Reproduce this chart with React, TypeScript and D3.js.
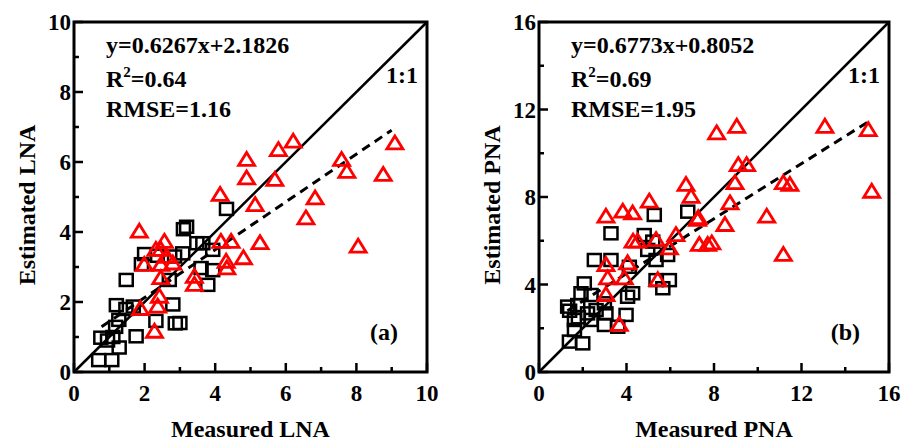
import React from 'react';
import * as d3 from 'd3';

// measured vs estimated values
const lnaBlack: [number, number][] = [
  [0.7, 0.34], [1.07, 0.34], [0.76, 0.98], [0.95, 0.9], [1.1, 1.0], [1.28, 0.7], [1.76, 1.02],
  [1.18, 1.29], [1.27, 1.49], [1.2, 1.91], [1.47, 1.8], [1.68, 1.87], [1.48, 2.63], [2.32, 1.46],
  [2.8, 1.93], [2.87, 1.39], [3.0, 1.4], [2.0, 3.37], [1.91, 3.08], [2.7, 2.63], [3.1, 4.08],
  [3.19, 4.15], [3.48, 3.68], [3.65, 3.68], [3.79, 2.49], [3.93, 2.91], [4.32, 4.66], [2.36, 3.32],
  [2.85, 3.3], [3.08, 3.39], [3.93, 3.49], [3.6, 2.97],
];
const lnaRed: [number, number][] = [
  [1.85, 4.01], [1.99, 3.06], [1.88, 1.8], [2.37, 1.87], [2.42, 2.15], [2.28, 1.15], [2.32, 3.49],
  [2.46, 3.49], [2.56, 3.72], [2.8, 3.1], [2.63, 3.29], [2.46, 2.68], [2.46, 3.06], [3.41, 2.72],
  [3.41, 2.49], [4.14, 5.06], [4.16, 3.72], [4.45, 3.72], [4.31, 3.15], [4.33, 2.96], [4.8, 3.25],
  [5.27, 3.68], [5.13, 4.77], [4.89, 6.06], [4.89, 5.53], [5.79, 6.34], [6.21, 6.58], [5.69, 5.49],
  [6.83, 4.96], [6.57, 4.39], [7.58, 6.06], [7.73, 5.72], [8.76, 5.63], [9.09, 6.53], [8.05, 3.58],
];
const pnaBlack: [number, number][] = [
  [1.39, 1.39], [2.0, 1.31], [1.62, 1.92], [1.31, 2.99], [1.77, 3.06], [1.92, 3.6], [2.07, 4.05],
  [1.62, 2.38], [2.22, 2.68], [2.61, 2.83], [2.38, 2.38], [3.06, 2.68], [2.99, 2.15], [3.6, 2.07],
  [3.98, 2.61], [4.05, 3.44], [4.28, 3.6], [2.38, 3.52], [2.53, 5.12], [3.29, 5.12], [3.29, 6.34],
  [4.13, 4.81], [5.27, 7.18], [6.8, 7.33], [4.81, 6.26], [5.2, 5.96], [5.35, 5.12], [5.88, 5.35],
  [4.97, 5.58], [5.35, 4.2], [5.96, 4.2], [5.66, 3.83], [2.99, 3.14], [1.4, 2.8], [1.8, 2.5],
];
const pnaRed: [number, number][] = [
  [3.06, 7.1], [3.83, 7.33], [4.28, 7.25], [5.04, 7.79], [6.72, 8.55], [6.95, 8.01], [7.25, 6.95],
  [7.33, 5.81], [7.71, 5.81], [7.9, 5.88], [6.26, 6.26], [5.96, 5.65], [5.35, 6.03], [4.51, 5.96],
  [4.3, 5.96], [3.06, 4.89], [4.05, 4.97], [3.14, 4.28], [3.9, 4.28], [3.06, 3.52], [3.67, 2.15],
  [5.43, 4.2], [8.12, 10.91], [9.04, 11.21], [13.07, 11.21], [15.05, 11.06], [15.21, 8.24],
  [9.11, 9.46], [9.49, 9.46], [8.96, 8.63], [8.73, 7.71], [8.5, 6.72], [10.41, 7.1], [11.17, 5.35],
  [11.17, 8.63], [11.47, 8.55], [7.28, 7.03],
];

// fitted (dashed) line end points as drawn
const lnaFit: [number, number][] = [[0.78, 1.29], [9.0, 6.91]];
const pnaFit: [number, number][] = [[1.3, 2.8], [15.05, 11.44]];

const lnaStats = ['y=0.6267x+2.1826', '0.64', 'RMSE=1.16'];
const pnaStats = ['y=0.6773x+0.8052', '0.69', 'RMSE=1.95'];

const FONT = '"Liberation Serif", "Times New Roman", serif';

type PanelProps = {
  left: number;
  right: number;
  max: number;
  majorStep: number;
  black: [number, number][];
  red: [number, number][];
  fit: [number, number][];
  stats: string[];
  xLabel: string;
  yLabel: string;
  tag: string;
};

const Panel = ({ left, right, max, majorStep, black, red, fit, stats, xLabel, yLabel, tag }: PanelProps) => {
  const top = 22, bottom = 372;
  const x = d3.scaleLinear().domain([0, max]).range([left, right]);
  const y = d3.scaleLinear().domain([0, max]).range([bottom, top]);
  const minorStep = majorStep / 2;
  const ticks = d3.range(0, max + 1e-9, minorStep);
  const isMajor = (t: number) => Math.abs(t / majorStep - Math.round(t / majorStep)) < 1e-6;
  const fitLine = d3.line<[number, number]>().x(d => x(d[0])).y(d => y(d[1]));
  const tri = 'M0,-7.5 L8,5.5 L-8,5.5 Z';

  return (
    <g fontFamily={FONT} fontWeight="bold" fill="#000">
      {/* 1:1 line */}
      <line x1={x(0)} y1={y(0)} x2={x(max)} y2={y(max)} stroke="#000" strokeWidth={2.5} />
      <path d={fitLine(fit) || ''} stroke="#000" strokeWidth={3} strokeDasharray="9,6" fill="none" />

      {black.map((d, i) => (
        <rect key={'b' + i} x={x(d[0]) - 6.5} y={y(d[1]) - 6} width={13} height={12}
          fill="none" stroke="#000" strokeWidth={2.5} />
      ))}
      {red.map((d, i) => (
        <path key={'r' + i} d={tri} transform={`translate(${x(d[0])},${y(d[1])})`}
          fill="none" stroke="#ff0000" strokeWidth={2.8} strokeLinejoin="miter" />
      ))}

      {/* ticks */}
      {ticks.map(t => (
        <g key={'t' + t}>
          <line x1={x(t)} x2={x(t)} y1={bottom} y2={bottom - (isMajor(t) ? 9 : 5)} stroke="#000" strokeWidth={2.5} />
          <line x1={left} x2={left + (isMajor(t) ? 9 : 5)} y1={y(t)} y2={y(t)} stroke="#000" strokeWidth={2.5} />
          {isMajor(t) && (
            <>
              <text x={x(t)} y={401} textAnchor="middle" fontSize={23}>{t}</text>
              <text x={left - 3} y={y(t)} dy="0.35em" textAnchor="end" fontSize={23}>{t}</text>
            </>
          )}
        </g>
      ))}

      <rect x={left} y={top} width={right - left} height={bottom - top} fill="none" stroke="#000" strokeWidth={3} />

      <text x={left + 32} y={53} fontSize={24}>{stats[0]}</text>
      <text x={left + 32} y={87} fontSize={24}>
        R<tspan dy={-10} fontSize={15}>2</tspan><tspan dy={10}>={stats[1]}</tspan>
      </text>
      <text x={left + 32} y={117} fontSize={24}>{stats[2]}</text>
      <text x={right - 9} y={83} textAnchor="end" fontSize={24}>1:1</text>
      <text x={right - 29} y={340} textAnchor="end" fontSize={24}>{tag}</text>

      <text x={(left + right) / 2} y={437} textAnchor="middle" fontSize={24}>{xLabel}</text>
      <text transform={`translate(${left - 39},${205}) rotate(-90)`} textAnchor="middle" fontSize={24}>{yLabel}</text>
    </g>
  );
};

export default function App() {
  return (
    <svg width={903} height={441} style={{ position: 'absolute', left: 0, top: 0, background: '#fff' }}>
      <Panel left={74} right={427} max={10} majorStep={2} black={lnaBlack} red={lnaRed} fit={lnaFit}
        stats={lnaStats} xLabel="Measured LNA" yLabel="Estimated LNA" tag="(a)" />
      <Panel left={539} right={889} max={16} majorStep={4} black={pnaBlack} red={pnaRed} fit={pnaFit}
        stats={pnaStats} xLabel="Measured PNA" yLabel="Estimated PNA" tag="(b)" />
    </svg>
  );
}
